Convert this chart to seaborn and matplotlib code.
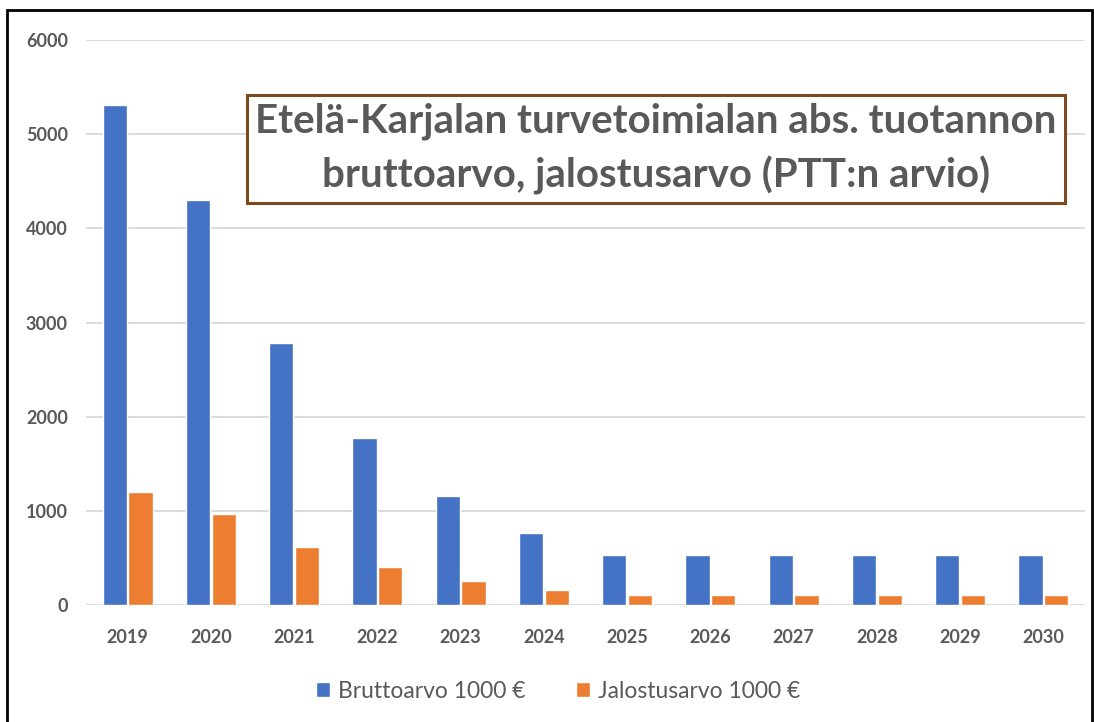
"""Etelä-Karjala peat industry: gross value and value added (PTT estimate)."""

###########
# Imports #
###########
import pandas as pd
import matplotlib.pyplot as plt
import matplotlib.patches as mpatches
import seaborn as sns


########
# Data #
########
years = ['2019', '2020', '2021', '2022', '2023', '2024',
         '2025', '2026', '2027', '2028', '2029', '2030']
brutto = [5310, 4300, 2780, 1770, 1160, 760, 530, 530, 530, 530, 530, 530]
jalostus = [1205, 970, 620, 400, 260, 160, 110, 110, 110, 110, 110, 110]
series_names = ['Bruttoarvo 1000 €', 'Jalostusarvo 1000 €']
title_text = 'Etelä-Karjalan turvetoimialan abs. tuotannon\nbruttoarvo, jalostusarvo (PTT:n arvio)'

# Long format for seaborn
df = pd.DataFrame({'year': years, series_names[0]: brutto, series_names[1]: jalostus})
df_long = pd.melt(df, id_vars=['year'], value_vars=series_names,
                  var_name='series', value_name='value')


########
# Plot #
########
sns.set_style('white')
plt.rcParams['font.family'] = ['Lato', 'DejaVu Sans']
text_grey = '#595959'

fig = plt.figure(figsize=(10.94, 7.22), dpi=100)
ax = fig.add_axes([86 / 1094, 1 - 605 / 722, 999 / 1094, 565 / 722])

sns.barplot(data=df_long, x='year', y='value', hue='series',
            palette=['#4472C4', '#ED7D31'], width=0.62, gap=0.06,
            saturation=1, ax=ax)

ax.set_ylim(0, 6000)
ax.set_yticks(range(0, 6001, 1000))
ax.set_xlim(-0.5, len(years) - 0.5)
ax.set_xlabel('')
ax.set_ylabel('')
ax.yaxis.grid(True, color='#d9d9d9', linewidth=1.3)
ax.set_axisbelow(True)
for side in ['top', 'right', 'left', 'bottom']:
    ax.spines[side].set_visible(False)
ax.tick_params(axis='both', length=0, labelsize=13, colors=text_grey)
ax.tick_params(axis='y', pad=13)
ax.tick_params(axis='x', pad=17)
for lbl in ax.get_xticklabels() + ax.get_yticklabels():
    lbl.set_fontweight('bold')

# Legend at bottom
handles, labels = ax.get_legend_handles_labels()
ax.legend(handles, labels, loc='center', bbox_to_anchor=(0.51, 1 - 691 / 722),
          bbox_transform=fig.transFigure, ncol=2, frameon=False,
          fontsize=16.5, handlelength=0.6, handleheight=0.6,
          handletextpad=0.35, columnspacing=2.2, labelcolor=text_grey)

# Title box
fig.text((248 + 1064) / 2 / 1094, 1 - 149 / 722, title_text,
         ha='center', va='center', fontsize=29, fontweight='bold',
         color=text_grey, linespacing=1.5,
         bbox=dict(boxstyle='square,pad=0.2', facecolor='white',
                   edgecolor='#7B4A1E', linewidth=2.2))

# Outer frame
fig.add_artist(mpatches.Rectangle((7 / 1094, -0.05), 1085 / 1094, 1.05 - 10 / 722,
                                  transform=fig.transFigure, fill=False,
                                  edgecolor='black', linewidth=2))

fig.savefig('out.png', dpi=100)
